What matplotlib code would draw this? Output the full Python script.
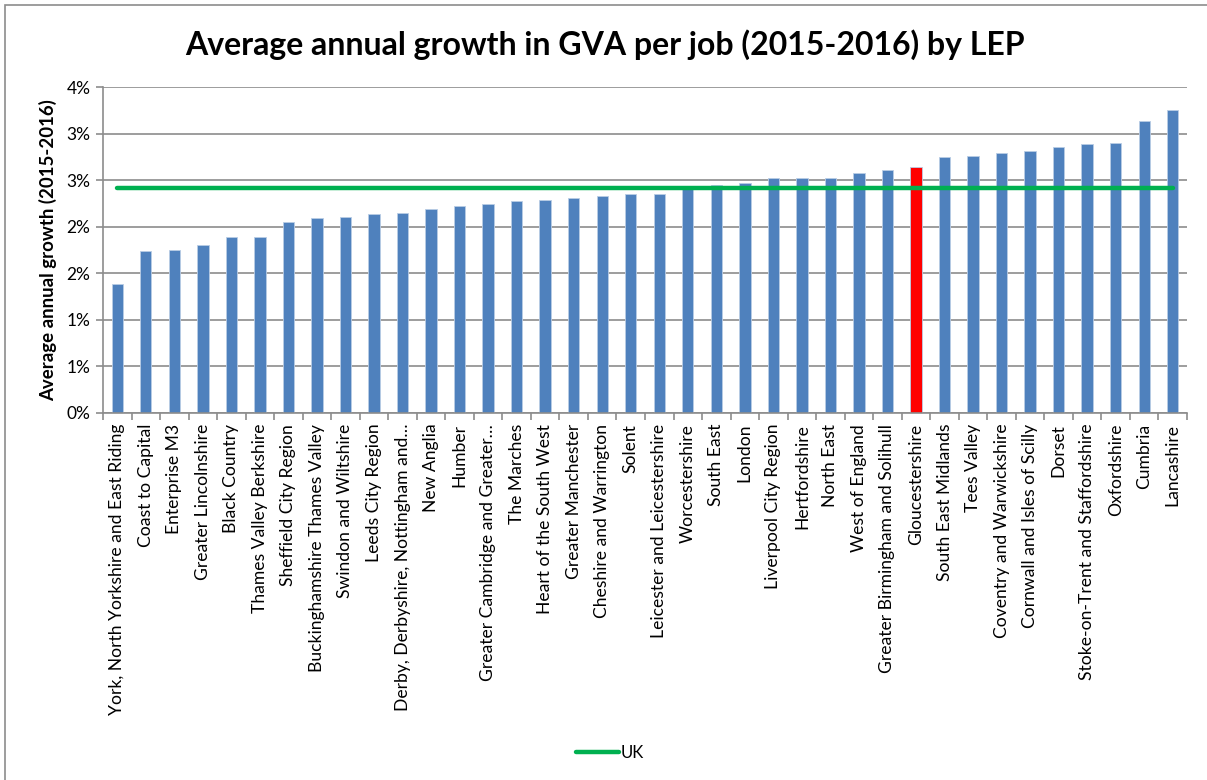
import matplotlib
matplotlib.use("Agg")
import matplotlib.pyplot as plt
from matplotlib.patches import Rectangle
from matplotlib.ticker import FixedLocator, FuncFormatter

plt.rcParams['font.family'] = ['Lato', 'DejaVu Sans']

# LEP areas, sorted by growth
leps = [
    "York, North Yorkshire and East Riding", "Coast to Capital", "Enterprise M3",
    "Greater Lincolnshire", "Black Country", "Thames Valley Berkshire",
    "Sheffield City Region", "Buckinghamshire Thames Valley", "Swindon and Wiltshire",
    "Leeds City Region", "Derby, Derbyshire, Nottingham and\u2026", "New Anglia", "Humber",
    "Greater Cambridge and Greater\u2026", "The Marches", "Heart of the South West",
    "Greater Manchester", "Cheshire and Warrington", "Solent",
    "Leicester and Leicestershire", "Worcestershire", "South East", "London",
    "Liverpool City Region", "Hertfordshire", "North East", "West of England",
    "Greater Birmingham and Solihull", "Gloucestershire", "South East Midlands",
    "Tees Valley", "Coventry and Warwickshire", "Cornwall and Isles of Scilly",
    "Dorset", "Stoke-on-Trent and Staffordshire", "Oxfordshire", "Cumbria", "Lancashire",
]

# Average annual growth in GVA per job, 2015-2016 (%)
growth = [
    1.38, 1.74, 1.75, 1.80, 1.89, 1.89,
    2.05, 2.09, 2.10, 2.14, 2.15, 2.19, 2.22,
    2.25, 2.28, 2.29, 2.31, 2.33, 2.35, 2.35,
    2.43, 2.45, 2.47, 2.52, 2.52, 2.52, 2.58,
    2.61, 2.64, 2.75, 2.76, 2.79, 2.82, 2.86,
    2.89, 2.90, 3.14, 3.26,
]

uk_growth = 2.42
highlight = "Gloucestershire"

y_ticks = [0.0, 0.5, 1.0, 1.5, 2.0, 2.5, 3.0, 3.5]

blue = "#4F81BD"
red = "#FF0000"
green = "#00B050"
grid_col = "#8C8C8C"

W, H = 1207, 780
fig = plt.figure(figsize=(W / 100, H / 100), dpi=100)

# chart-area frame
fig.patches.append(Rectangle((5 / W, -0.1), 1.2, 1 - 5 / H + 0.1,
                             transform=fig.transFigure, fill=False,
                             edgecolor="#8C8C8C", linewidth=1.2, zorder=0))

ax = fig.add_axes([103 / W, 1 - 412.7 / H, (1187 - 103) / W, (412.7 - 87.3) / H])

x = list(range(len(leps)))
colors = [red if name == highlight else blue for name in leps]
ax.bar(x, growth, width=0.4, color=colors, edgecolor="#B9CDE5", linewidth=0.6,
       zorder=2)
ax.plot([x[0], x[-1]], [uk_growth, uk_growth], color=green, linewidth=3.2,
        solid_capstyle="round", zorder=3, label="UK")

ax.set_xlim(-0.5, len(leps) - 0.5)
ax.set_ylim(0, 3.5)

ax.yaxis.set_major_locator(FixedLocator(y_ticks))
ax.yaxis.set_major_formatter(FuncFormatter(lambda v, p: f"{int(v + 0.5)}%"))
ax.grid(axis="y", color=grid_col, linewidth=1.2, zorder=0)
ax.set_axisbelow(True)

ax.set_xticks(x)
ax.set_xticklabels(leps, rotation=90, fontsize=12.6, color="black")
ax.xaxis.set_minor_locator(FixedLocator([i - 0.5 for i in range(len(leps) + 1)]))
ax.tick_params(axis="x", which="major", length=0, pad=8)
ax.tick_params(axis="x", which="minor", length=5, color=grid_col, width=1.2)
ax.tick_params(axis="y", length=5, color=grid_col, width=1.2, labelsize=12.5, pad=4)

for side in ("top", "right"):
    ax.spines[side].set_visible(False)
for side in ("left", "bottom"):
    ax.spines[side].set_color(grid_col)
    ax.spines[side].set_linewidth(1.2)

ax.set_ylabel("Average annual growth (2015-2016)", fontsize=13.4, fontweight="bold",
              labelpad=7)

fig.text(605 / W, 1 - 45 / H, "Average annual growth in GVA per job (2015-2016) by LEP",
         ha="center", va="center", fontsize=23, fontweight="bold")

fig.legend(handles=ax.get_lines(), loc="center", bbox_to_anchor=(610 / W, 1 - 753 / H),
           frameon=False, fontsize=12, handlelength=2.6, handletextpad=0.1)

fig.savefig("out.png", dpi=100)
